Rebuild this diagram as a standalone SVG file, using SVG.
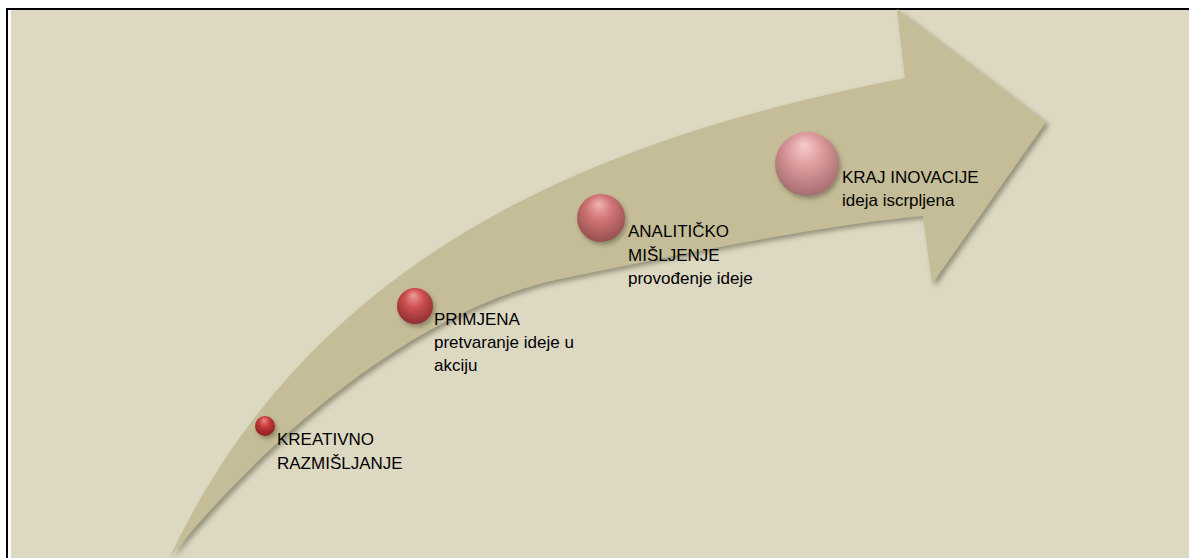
<svg xmlns="http://www.w3.org/2000/svg" width="1189" height="558" viewBox="0 0 1189 558">
<defs>
<style>
.lbl{font-family:"Liberation Sans",Arial,sans-serif;font-size:17px;fill:#000}
</style>
<filter id="sh" x="-10%" y="-10%" width="130%" height="130%">
<feDropShadow dx="3" dy="3" stdDeviation="2.5" flood-color="#5a5540" flood-opacity="0.55"/>
</filter>
<filter id="bsh" x="-30%" y="-30%" width="170%" height="170%">
<feDropShadow dx="2" dy="3" stdDeviation="2" flood-color="#4a4530" flood-opacity="0.45"/>
</filter>
<radialGradient id="g1" cx="50%" cy="40%" r="60%" fx="45%" fy="20%">
<stop offset="0" stop-color="#e98a8a"/>
<stop offset="0.45" stop-color="#c8393b"/>
<stop offset="1" stop-color="#8a1f22"/>
</radialGradient>
<radialGradient id="g2" cx="50%" cy="40%" r="60%" fx="45%" fy="20%">
<stop offset="0" stop-color="#ee9a9a"/>
<stop offset="0.45" stop-color="#cc4e50"/>
<stop offset="1" stop-color="#8f3033"/>
</radialGradient>
<radialGradient id="g3" cx="50%" cy="40%" r="60%" fx="45%" fy="20%">
<stop offset="0" stop-color="#f0b2b2"/>
<stop offset="0.45" stop-color="#d07476"/>
<stop offset="1" stop-color="#975051"/>
</radialGradient>
<radialGradient id="g4" cx="50%" cy="40%" r="60%" fx="45%" fy="20%">
<stop offset="0" stop-color="#f6cccc"/>
<stop offset="0.45" stop-color="#dc9a9c"/>
<stop offset="1" stop-color="#a56e70"/>
</radialGradient>
</defs>
<rect x="0" y="0" width="1189" height="558" fill="#fff"/>
<rect x="11" y="10" width="1178" height="548" fill="#ddd8c2"/>
<path d="M7,558 V9 H1189" fill="none" stroke="#000" stroke-width="2"/>
<g id="arrow">
<path filter="url(#sh)" fill="#c4bd97" d="M170,557 C315,250 600,138 905,78 L897,9 L1046,122 L932,284 L923,216 C830,224 700,250 570,277 C440,300 290,410 170,557 Z"/>
</g>
<g id="connectors"></g>
<g id="n1">
<circle cx="265" cy="426" r="10" fill="url(#g1)" filter="url(#bsh)"/>
<text class="lbl" x="277" y="445">KREATIVNO</text>
<text class="lbl" x="277" y="469">RAZMIŠLJANJE</text>
</g>
<g id="n2">
<circle cx="415" cy="306" r="18" fill="url(#g2)" filter="url(#bsh)"/>
<text class="lbl" x="434" y="325">PRIMJENA</text>
<text class="lbl" x="434" y="348">pretvaranje ideje u</text>
<text class="lbl" x="434" y="371">akciju</text>
</g>
<g id="n3">
<circle cx="601" cy="218" r="24" fill="url(#g3)" filter="url(#bsh)"/>
<text class="lbl" x="628" y="237">ANALITIČKO</text>
<text class="lbl" x="628" y="261">MIŠLJENJE</text>
<text class="lbl" x="628" y="284">provođenje ideje</text>
</g>
<g id="n4">
<circle cx="807" cy="164" r="32" fill="url(#g4)" filter="url(#bsh)"/>
<text class="lbl" x="842" y="183">KRAJ INOVACIJE</text>
<text class="lbl" x="842" y="206">ideja iscrpljena</text>
</g>
</svg>
